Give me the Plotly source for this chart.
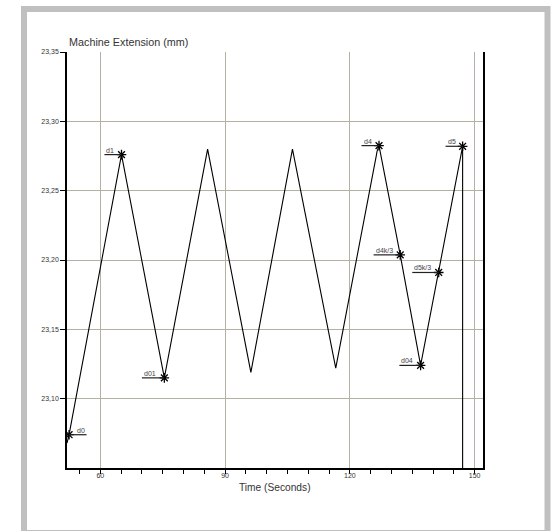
import plotly.graph_objects as go

# ---- data ----
time_s = [52.0, 52.5, 65.1, 75.4, 85.8, 96.2, 106.2, 116.6, 126.4, 126.5, 127.0,
          132.1, 137.0, 141.35, 147.1, 147.1]
extension_mm = [23.068, 23.074, 23.276, 23.115, 23.280, 23.119, 23.280, 23.122, 23.276, 23.278,
                23.2825, 23.2037, 23.124, 23.191, 23.282, 23.05]

point_names = ["d0", "d1", "d01", "d4", "d4k/3", "d04", "d5k/3", "d5"]
point_time = [52.5, 65.1, 75.4, 127.0, 132.1, 137.0, 141.35, 147.1]
point_ext = [23.074, 23.276, 23.115, 23.2825, 23.2037, 23.124, 23.191, 23.282]
leader_len = [4.2, -4.1, -5.4, -4.2, -6.4, -5.1, -6.35, -4.1]  # seconds (sign = side)

x_ticks = [60, 90, 120, 150]
y_ticks = [23.10, 23.15, 23.20, 23.25, 23.30, 23.35]

FONT = "Liberation Sans, Arial, sans-serif"
GRID = "#b4b1a4"

fig = go.Figure()
fig.add_trace(go.Scatter(x=time_s, y=extension_mm, mode="lines",
                         line=dict(color="black", width=1.1), hoverinfo="skip"))
fig.add_trace(go.Scatter(x=point_time, y=point_ext, mode="markers",
                         marker=dict(symbol="asterisk-open", size=8, color="black",
                                     line=dict(color="black", width=1.3)),
                         hoverinfo="skip"))

shapes = []
annotations = []
for name, t, v, L in zip(point_names, point_time, point_ext, leader_len):
    far = t + L
    shapes.append(dict(type="line", xref="x", yref="y", x0=t, x1=far, y0=v, y1=v,
                       line=dict(color="#222", width=1.2)))
    annotations.append(dict(x=far, y=v, xref="x", yref="y", text=name, showarrow=False,
                            xanchor="right" if L > 0 else "left", yanchor="bottom",
                            yshift=-1, font=dict(size=7, color="#444", family=FONT)))

# outer grey frame
W, H = 416.0, 416.0
def px(xp): return (xp - 67) / W
def py(yp): return (468 - yp) / H
shapes.append(dict(type="rect", xref="paper", yref="paper",
                   x0=px(24), x1=px(547.5), y0=py(533), y1=py(9),
                   line=dict(color="#c0c0c0", width=6), fillcolor="rgba(0,0,0,0)",
                   layer="below"))

annotations.append(dict(x=0, y=1, xref="paper", yref="paper", text="Machine Extension (mm)",
                        showarrow=False, xanchor="left", yanchor="bottom", yshift=2,
                        font=dict(size=10.8, color="#333", family=FONT)))
annotations.append(dict(x=0.5, y=0, xref="paper", yref="paper", text="Time (Seconds)",
                        showarrow=False, xanchor="center", yanchor="top", yshift=-12,
                        font=dict(size=10.2, color="#333", family=FONT)))

fig.update_layout(
    width=551, height=531, autosize=False,
    margin=dict(l=67, r=68, t=52, b=63),
    paper_bgcolor="white", plot_bgcolor="white",
    showlegend=False, separators=",.",
    shapes=shapes, annotations=annotations,
    font=dict(family=FONT, color="#333"),
)
fig.update_xaxes(range=[52, 152], tickvals=x_ticks, ticks="", showgrid=True,
                 gridcolor=GRID, gridwidth=1, zeroline=False,
                 showline=True, linecolor="black", linewidth=1.5, mirror=False,
                 tickfont=dict(size=7, color="#333", family=FONT),
                 minor=dict(dtick=5, tick0=0, ticks="outside", ticklen=4,
                            tickcolor="black", tickwidth=1, showgrid=False))
fig.update_yaxes(range=[23.05, 23.35], tickvals=y_ticks, tickformat=".2f",
                 ticks="outside", ticklen=5, tickcolor="black", showgrid=True,
                 gridcolor=GRID, gridwidth=1, zeroline=False,
                 showline=True, linecolor="black", linewidth=1.5, mirror=True,
                 tickfont=dict(size=7, color="#333", family=FONT))

fig.write_html("out.html")
